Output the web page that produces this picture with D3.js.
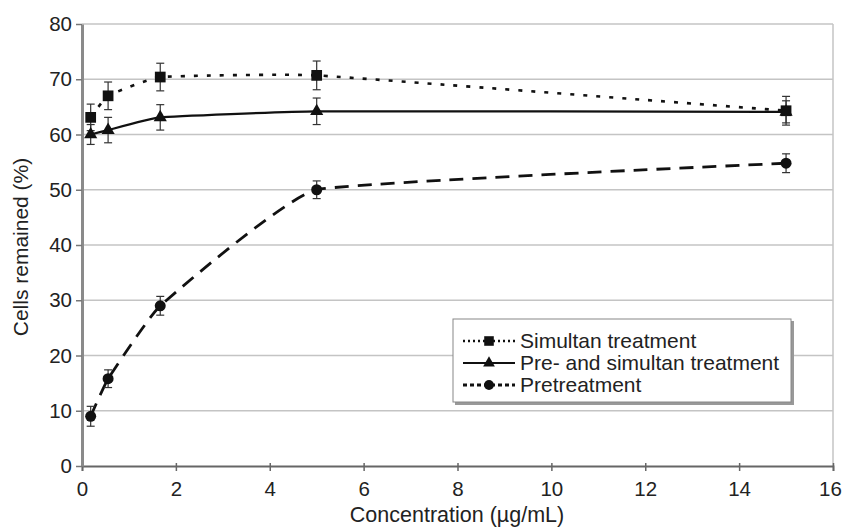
<!DOCTYPE html>
<html>
<head>
<meta charset="utf-8">
<script src="https://cdn.jsdelivr.net/npm/d3@7"></script>
<style>
  body { margin: 0; background: #fff; }
  svg text { font-family: "Liberation Sans", Arial, sans-serif; fill: #222; }
</style>
</head>
<body>
<div id="canvas"></div>
<script>
// concentrations (1:3 dilution series)
const concentrations = [0.185, 0.556, 1.667, 5, 15];

const seriesNames = ["Simultan treatment", "Pre- and simultan treatment", "Pretreatment"];
const simultan = [63.1, 67.0, 70.4, 70.7, 64.3];
const simultanErr = [2.4, 2.5, 2.5, 2.6, 2.6];
const preSimultan = [60.0, 60.8, 63.1, 64.2, 64.1];
const preSimultanErr = [1.8, 2.3, 2.3, 2.4, 2.0];
const pretreatment = [9.0, 15.8, 29.0, 50.0, 54.8];
const pretreatmentErr = [1.8, 1.6, 1.7, 1.6, 1.7];

const xTicks = [0, 2, 4, 6, 8, 10, 12, 14, 16];
const yTicks = [0, 10, 20, 30, 40, 50, 60, 70, 80];

const width = 843;
const height = 529;

const svg = d3.select("#canvas").append("svg")
  .attr("width", width)
  .attr("height", height);

const x = d3.scaleLinear().domain([0, 16]).range([82, 833]);
const y = d3.scaleLinear().domain([0, 80]).range([466, 24]);

// gridlines + plot border
svg.append("g").selectAll("line").data(yTicks.filter(d => d > 0)).enter().append("line")
  .attr("x1", x(0)).attr("x2", x(16))
  .attr("y1", d => y(d)).attr("y2", d => y(d))
  .attr("stroke", "#c4c4c4").attr("stroke-width", 1.5);

svg.append("line")
  .attr("x1", x(16)).attr("x2", x(16))
  .attr("y1", y(0)).attr("y2", y(80))
  .attr("stroke", "#c4c4c4").attr("stroke-width", 1.5);

// axes
const xAxis = svg.append("g")
  .attr("transform", `translate(0,${y(0)})`)
  .call(d3.axisBottom(x).tickValues(xTicks).tickFormat(d3.format("d")).tickSize(5).tickPadding(10));
xAxis.select(".domain").attr("stroke", "#666").attr("stroke-width", 1.8);
xAxis.selectAll(".tick line").attr("stroke", "#666").attr("stroke-width", 1.5).attr("y1", -3);
xAxis.selectAll("text").style("font-size", "20.5px").attr("fill", "#222")
  .attr("dx", d => d === 16 ? -3 : 0);

const yAxis = svg.append("g")
  .attr("transform", `translate(${x(0)},0)`)
  .call(d3.axisLeft(y).tickValues(yTicks).tickSize(6).tickPadding(4).tickSizeOuter(0));
yAxis.select(".domain").attr("stroke", "#8a8a8a").attr("stroke-width", 3);
yAxis.selectAll(".tick line").attr("stroke", "#777").attr("stroke-width", 1.5);
yAxis.selectAll("text").style("font-size", "20.5px").attr("fill", "#222");

svg.append("text")
  .attr("x", 457).attr("y", 522)
  .attr("text-anchor", "middle")
  .style("font-size", "21.5px")
  .text("Concentration (µg/mL)");

svg.append("text")
  .attr("transform", "translate(28,247) rotate(-90)")
  .attr("text-anchor", "middle")
  .style("font-size", "21px")
  .text("Cells remained (%)");

// series
const series = [
  { name: seriesNames[0], values: simultan, err: simultanErr, dash: "4,9", lw: 2.6, marker: d3.symbolSquare, size: 115 },
  { name: seriesNames[1], values: preSimultan, err: preSimultanErr, dash: null, lw: 2.2, marker: d3.symbolTriangle, size: 75 },
  { name: seriesNames[2], values: pretreatment, err: pretreatmentErr, dash: "14,9", lw: 2.8, marker: d3.symbolCircle, size: 95 }
];

// mild smoothing, close to the reference
const line = d3.line()
  .x(d => x(d[0]))
  .y(d => y(d[1]))
  .curve(d3.curveCardinal.tension(0.7));

series.forEach(s => {
  const pts = concentrations.map((c, i) => [c, s.values[i], s.err[i]]);

  svg.append("path")
    .datum(pts)
    .attr("d", line)
    .attr("fill", "none")
    .attr("stroke", "#111")
    .attr("stroke-width", s.lw)
    .attr("stroke-dasharray", s.dash);

  const eb = svg.append("g").selectAll("g").data(pts).enter().append("g");
  eb.append("line")
    .attr("x1", d => x(d[0])).attr("x2", d => x(d[0]))
    .attr("y1", d => y(d[1] + d[2])).attr("y2", d => y(d[1] - d[2]))
    .attr("stroke", "#333").attr("stroke-width", 1.2);
  eb.append("line")
    .attr("x1", d => x(d[0]) - 4).attr("x2", d => x(d[0]) + 4)
    .attr("y1", d => y(d[1] + d[2])).attr("y2", d => y(d[1] + d[2]))
    .attr("stroke", "#333").attr("stroke-width", 1.2);
  eb.append("line")
    .attr("x1", d => x(d[0]) - 4).attr("x2", d => x(d[0]) + 4)
    .attr("y1", d => y(d[1] - d[2])).attr("y2", d => y(d[1] - d[2]))
    .attr("stroke", "#333").attr("stroke-width", 1.2);

  svg.append("g").selectAll("path").data(pts).enter().append("path")
    .attr("transform", d => `translate(${x(d[0])},${y(d[1])})`)
    .attr("d", d3.symbol().type(s.marker).size(s.size))
    .attr("fill", "#111");
});

// legend
const legend = svg.append("g").attr("transform", "translate(453,319)");
legend.append("rect")
  .attr("x", 2).attr("y", 2).attr("width", 339).attr("height", 84)
  .attr("fill", "#999");
legend.append("rect")
  .attr("x", 0).attr("y", 0).attr("width", 338).attr("height", 83)
  .attr("fill", "#fff").attr("stroke", "#888").attr("stroke-width", 1);

const rows = legend.selectAll("g.row").data(series).enter().append("g")
  .attr("class", "row")
  .attr("transform", (d, i) => `translate(0,${22 + i * 22})`);
rows.append("line")
  .attr("x1", 10).attr("x2", 62).attr("y1", 0).attr("y2", 0)
  .attr("stroke", "#111")
  .attr("stroke-width", d => d.lw)
  .attr("stroke-dasharray", (d, i) => i === 2 ? "4,3" : (i === 0 ? "2,3" : null));
rows.append("path")
  .attr("transform", "translate(36,0)")
  .attr("d", d => d3.symbol().type(d.marker).size(d.size * 0.8)())
  .attr("fill", "#111");
rows.append("text")
  .attr("x", 67).attr("y", 7)
  .style("font-size", "21px")
  .text(d => d.name);
</script>
</body>
</html>
